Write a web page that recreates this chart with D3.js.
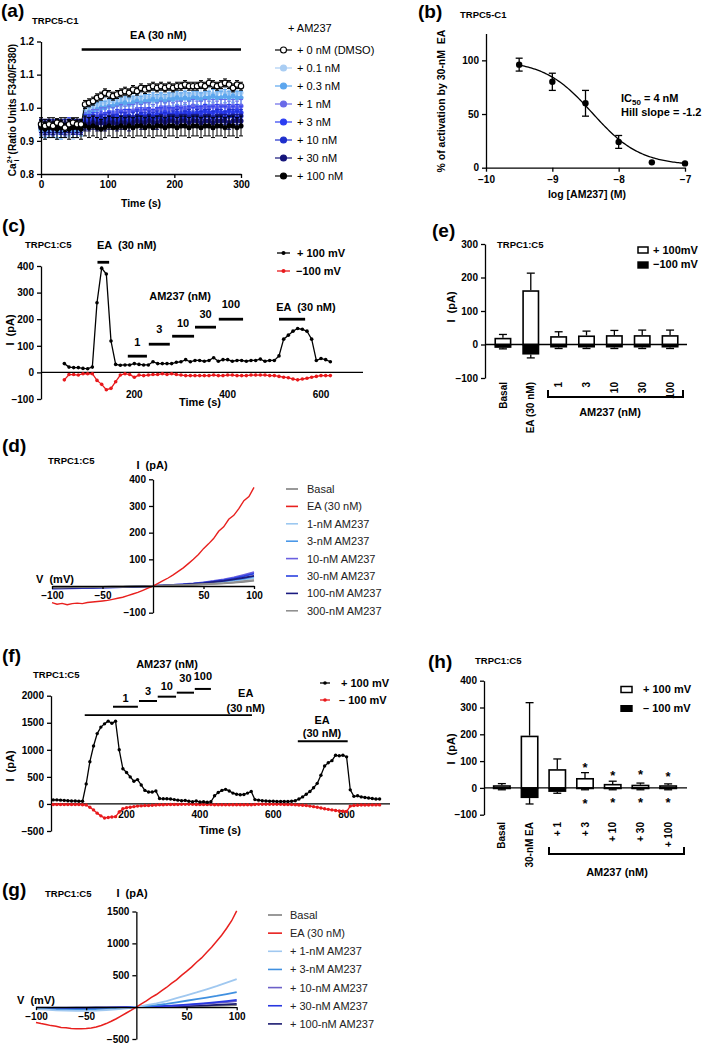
<!DOCTYPE html>
<html>
<head>
<meta charset="utf-8">
<script src="https://cdn.jsdelivr.net/npm/d3@7"></script>
<style>html,body{margin:0;padding:0;background:#fff;} text{white-space:pre;}</style>
</head>
<body>
<svg id="fig" width="709" height="1045"></svg>
<script>
const FONT = "'Liberation Sans', Arial, Helvetica, sans-serif";

/* ---------------- (a) TRPC5-C1 Ca2+ ratio ---------------- */
const aTime = d3.range(0, 301, 6);
const aDMSO = [0.950,0.945,0.950,0.945,0.955,0.950,0.940,0.950,0.955,0.950,0.950,
  1.010,1.015,1.020,1.030,1.035,1.045,1.040,1.035,1.040,1.045,
  1.050,1.045,1.055,1.050,1.060,1.055,1.060,1.065,1.060,1.065,
  1.060,1.065,1.060,1.065,1.065,1.070,1.065,1.065,1.065,1.070,
  1.065,1.075,1.070,1.065,1.070,1.075,1.070,1.060,1.070,1.065];
const a01 = [0.930,0.925,0.935,0.930,0.925,0.930,0.935,0.930,0.925,0.930,0.935,
  0.990,1.000,1.005,1.010,1.015,1.015,1.020,1.020,1.025,1.020,
  1.025,1.030,1.025,1.030,1.030,1.035,1.030,1.035,1.035,1.040,
  1.035,1.040,1.035,1.040,1.040,1.045,1.040,1.040,1.045,1.040,
  1.045,1.045,1.040,1.045,1.050,1.045,1.045,1.040,1.045,1.045];
const a03 = [0.935,0.930,0.930,0.935,0.930,0.925,0.930,0.935,0.930,0.930,0.935,
  0.980,0.985,0.990,0.995,1.000,1.000,1.005,1.005,1.010,1.010,
  1.015,1.010,1.015,1.020,1.015,1.020,1.020,1.025,1.020,1.025,
  1.020,1.025,1.025,1.030,1.025,1.030,1.025,1.030,1.030,1.025,
  1.030,1.030,1.035,1.030,1.030,1.035,1.030,1.035,1.030,1.030];
const a1 = [0.940,0.935,0.940,0.935,0.940,0.940,0.935,0.940,0.945,0.940,0.940,
  0.965,0.970,0.975,0.975,0.980,0.980,0.985,0.980,0.985,0.990,
  0.985,0.990,0.990,0.995,0.990,0.995,0.995,0.990,0.995,1.000,
  0.995,1.000,0.995,1.000,1.000,0.995,1.000,1.005,1.000,1.000,
  1.005,1.000,1.005,1.000,1.005,1.005,1.000,1.005,1.000,1.005];
const a3 = [0.945,0.940,0.945,0.940,0.945,0.940,0.945,0.950,0.945,0.940,0.945,
  0.960,0.960,0.965,0.965,0.970,0.965,0.970,0.970,0.975,0.970,
  0.975,0.975,0.970,0.975,0.980,0.975,0.980,0.975,0.980,0.980,
  0.985,0.980,0.980,0.985,0.980,0.985,0.985,0.980,0.985,0.985,
  0.990,0.985,0.985,0.990,0.985,0.985,0.990,0.985,0.990,0.985];
const a10 = [0.945,0.945,0.940,0.945,0.945,0.940,0.945,0.945,0.940,0.945,0.945,
  0.955,0.955,0.960,0.955,0.960,0.960,0.965,0.960,0.960,0.965,
  0.965,0.960,0.965,0.970,0.965,0.965,0.970,0.965,0.970,0.970,
  0.965,0.970,0.970,0.975,0.970,0.970,0.975,0.970,0.975,0.970,
  0.975,0.975,0.970,0.975,0.975,0.970,0.975,0.975,0.970,0.975];
const a30 = [0.945,0.940,0.945,0.940,0.945,0.945,0.940,0.945,0.940,0.945,0.940,
  0.950,0.950,0.955,0.950,0.955,0.950,0.955,0.955,0.950,0.955,
  0.955,0.950,0.955,0.960,0.955,0.955,0.960,0.955,0.955,0.960,
  0.955,0.960,0.960,0.955,0.960,0.960,0.955,0.960,0.960,0.955,
  0.960,0.960,0.955,0.960,0.960,0.960,0.955,0.960,0.960,0.960];
const a100 = [0.940,0.935,0.940,0.940,0.935,0.940,0.940,0.935,0.940,0.940,0.935,
  0.945,0.940,0.945,0.940,0.935,0.940,0.945,0.940,0.940,0.945,
  0.940,0.945,0.940,0.945,0.945,0.940,0.945,0.940,0.945,0.945,
  0.940,0.945,0.945,0.940,0.945,0.945,0.940,0.945,0.945,0.940,
  0.945,0.945,0.940,0.945,0.945,0.940,0.945,0.945,0.940,0.945];
const aSEM = [0.012,0.02,0.02,0.02,0.02,0.02,0.02,0.03];
const aLabels = ["+ 0 nM (DMSO)","+ 0.1 nM","+ 0.3 nM","+ 1 nM","+ 3 nM","+ 10 nM","+ 30 nM","+ 100 nM"];
const aColors = ["#000000","#a9cdf3","#5ca6ee","#6a6ae8","#2c3ef2","#1e2fcc","#15157a","#000000"];
const aYTicks = [0.8,0.9,1.0,1.1,1.2];
const aXTicks = [0,100,200,300];
const aEAWindow = [61,300];

/* ---------------- (b) concentration-response ---------------- */
const bLogConc = [-9.5,-9,-8.5,-8,-7.5,-7];
const bActivation = [96,80,60,24,5,4];
const bSEM = [6,8,12,6,0,0];
const bIC50nM = 4, bHill = -1.2, bTop = 100, bBottom = 2;
const bXTicks = [-10,-9,-8,-7];
const bYTicks = [0,50,100];

/* ---------------- (c) time course TRPC1:C5 ---------------- */
const cTime = d3.range(50, 621, 10);
const cPos = [33,20,18,18,15,14,20,262,392,370,118,30,27,28,28,33,30,28,28,40,
  33,33,33,33,38,40,48,40,45,45,42,45,55,42,48,48,42,45,45,42,
  45,45,50,42,45,45,62,125,140,155,165,162,155,125,45,52,48,40];
const cNeg = [-28,-8,-8,-10,-5,-5,-5,-30,-45,-65,-60,-35,-10,-5,-8,-18,-10,-12,-10,-8,
  -8,-5,-8,-5,-8,-10,-12,-12,-12,-12,-12,-12,-10,-12,-12,-10,-10,-12,-12,-12,
  -10,-10,-10,-10,-12,-12,-15,-18,-20,-25,-28,-25,-22,-18,-15,-12,-12,-12];
const cYTicks = [-100,0,100,200,300,400];
const cXTicks = [200,400,600];
const cBars = [
  {label:"EA  (30 nM)", t0:121, t1:146, lvl:414, lab:463, anchor:"start", lt:120},
  {label:"1",   t0:186, t1:227, lvl:61,  lab:99},
  {label:"3",   t0:231, t1:276, lvl:106, lab:148},
  {label:"10",  t0:281, t1:328, lvl:136, lab:170},
  {label:"30",  t0:330, t1:375, lvl:170, lab:204},
  {label:"100", t0:381, t1:433, lvl:200, lab:242},
  {label:"EA  (30 nM)", t0:510, t1:566, lvl:200, lab:230, anchor:"start", lt:504}
];

/* ---------------- (d) I-V TRPC1:C5 ---------------- */
const dVfine = d3.range(-100, 101, 5);
const dV = d3.range(-100, 101, 10);
const dEA = [-62,-68,-65,-70,-66,-64,-66,-62,-60,-58,-56,-54,-50,-46,-42,-36,-30,-24,-16,-8,0,
  10,20,30,42,55,68,84,100,118,140,158,178,205,222,250,265,290,320,335,370];
const dBasal = [-5,-5,-4,-4,-3,-3,-2,-2,-1,-1,0,1,2,3,4,6,8,10,13,16,20];
const d1 = [-8,-7,-7,-6,-5,-4,-4,-3,-2,-1,0,1,3,5,7,9,12,15,19,24,30];
const d3nM = [-9,-8,-8,-7,-6,-5,-4,-3,-2,-1,0,2,3,5,8,11,14,18,23,28,35];
const d10 = [-10,-9,-9,-8,-7,-6,-5,-4,-3,-2,0,2,4,7,10,14,19,25,32,42,52];
const d30 = [-9,-9,-8,-7,-6,-5,-5,-4,-3,-1,0,2,4,6,9,13,17,22,29,37,46];
const d100 = [-8,-8,-7,-6,-6,-5,-4,-3,-2,-1,0,1,3,5,8,11,15,19,25,31,38];
const d300 = [-5,-5,-4,-4,-3,-3,-2,-2,-1,-1,0,1,2,3,5,7,9,11,14,18,22];
const dLabels = ["Basal","EA (30 nM)","1-nM AM237","3-nM AM237","10-nM AM237","30-nM AM237","100-nM AM237","300-nM AM237"];
const dColors = ["#7f7f7f","#e8201e","#9cc8f0","#4a98e8","#6a60e0","#2a40e0","#1a1a80","#909090"];
const dYTicks = [-100,100,200,300,400];
const dXTicks = [-100,-50,50,100];

/* ---------------- (e) bar summary ---------------- */
const eCats = ["Basal","EA (30 nM)","1","3","10","30","100"];
const ePos = [20,162,25,27,28,28,28];
const ePosSEM = [10,51,13,13,14,15,15];
const eNeg = [-10,-30,-9,-9,-9,-9,-9];
const eNegSEM = [3,10,3,3,3,3,3];
const eYTicks = [-100,0,100,200,300];

/* ---------------- (f) time course 2 ---------------- */
const fTime = d3.range(0, 891, 10);
const fPos = [75,75,70,65,60,55,55,50,50,
  370,780,1070,1300,1420,1480,1530,1490,1530,
  1000,650,580,500,420,450,350,250,220,220,240,
  100,95,95,90,80,70,60,65,50,40,55,35,40,30,40,
  150,210,250,270,240,200,180,170,175,200,230,
  80,70,60,55,50,50,45,45,45,45,50,60,
  90,130,180,230,300,380,530,700,760,800,900,890,900,870,
  260,140,150,130,120,110,100,90,90];
const fNeg = [-10,-10,-10,-10,-10,-10,-10,-10,-15,
  -20,-60,-110,-170,-220,-260,-250,-240,-235,
  -150,-90,-70,-60,-50,-40,-35,-30,-30,-25,-20,
  -15,-15,-12,-10,-10,-10,-8,-8,-8,-8,-10,-10,-10,-12,-12,
  -15,-15,-15,-15,-15,-15,-15,-15,-15,-15,-15,
  -10,-5,-5,-5,-5,-5,-5,-8,-10,-10,-12,-15,
  -20,-25,-30,-40,-50,-60,-75,-90,-100,-110,-120,-130,-135,-140,
  -40,-30,-25,-20,-20,-20,-18,-18,-18];
const fYTicks = [-500,0,500,1000,1500,2000];
const fXTicks = [200,400,600,800];
const fBars = [
  {label:"1",   t0:163, t1:231, lvl:1796, lab:1892},
  {label:"3",   t0:234, t1:283, lvl:1902, lab:2004},
  {label:"10",  t0:285, t1:335, lvl:1982, lab:2097},
  {label:"30",  t0:337, t1:384, lvl:2056, lab:2246},
  {label:"100", t0:386, t1:430, lvl:2125, lab:2290}
];
const fEA = [
  {t0:86, t1:542, lvl:1641, lt:525, lab1:1985, lab2:1697},
  {t0:667, t1:803, lvl:1158, lt:733, lab1:1474, lab2:1233}
];

/* ---------------- (g) I-V 2 ---------------- */
const gVfine = d3.range(-100, 101, 5);
const gV = d3.range(-100, 101, 10);
const gEA = [-240,-258,-272,-290,-300,-318,-322,-336,-338,-340,-334,-326,-312,-288,-258,-222,-182,-138,-92,-48,0,
  52,98,152,198,255,308,372,428,498,560,628,705,772,858,938,1032,1128,1238,1355,1510];
const gBasal = [-10,-9,-8,-7,-6,-5,-4,-3,-2,-1,0,2,4,6,8,11,14,17,21,25,30];
const g1 = [-30,-40,-50,-55,-60,-60,-55,-45,-35,-18,0,30,60,95,140,185,230,280,330,385,440];
const g3 = [-25,-30,-35,-38,-40,-38,-35,-30,-22,-12,0,15,32,50,75,100,125,150,175,205,235];
const g10 = [-15,-15,-15,-15,-14,-13,-12,-10,-7,-4,0,5,10,16,24,32,42,55,68,80,95];
const g30 = [-15,-16,-17,-17,-16,-15,-13,-11,-8,-4,0,6,12,20,28,38,50,63,78,95,115];
const g100 = [-8,-8,-8,-8,-7,-7,-6,-5,-4,-2,0,3,6,9,13,17,22,28,35,42,50];
const gLabels = ["Basal","EA (30 nM)","+ 1-nM AM237","+ 3-nM AM237","+ 10-nM AM237","+ 30-nM AM237","+ 100-nM AM237"];
const gColors = ["#7f7f7f","#e8201e","#a0c8f0","#4090e0","#6c60c8","#2838e0","#1a1a70"];
const gYTicks = [-500,500,1000,1500];
const gXTicks = [-100,-50,50,100];

/* ---------------- (h) bar summary 2 ---------------- */
const hCats = ["Basal","30-nM EA","+ 1","+ 3","+ 10","+ 30","+ 100"];
const hPos = [10,195,70,37,15,12,10];
const hPosSEM = [6,123,38,20,10,6,5];
const hNeg = [-5,-38,-15,-5,-5,-5,-5];
const hNegSEM = [2,22,5,2,2,2,2];
const hStarUp = [null,null,null,86,57,61,52];
const hStarDown = [null,null,null,-49,-44,-44,-45];
const hYTicks = [-100,0,100,200,300,400];

/* ================= drawing ================= */
const svg = d3.select('#fig');
svg.append('rect').attr('width',709).attr('height',1045).attr('fill','#fff');
const intFmt = d3.format('d');

function T(x, y, s, o = {}) {
  const t = svg.append('text').attr('x', x).attr('y', y)
    .attr('font-family', FONT).attr('font-size', o.size || 10)
    .attr('font-weight', o.weight || 'bold').attr('fill', o.fill || '#000')
    .attr('text-anchor', o.anchor || 'start');
  if (o.rotate) t.attr('transform', `rotate(${o.rotate},${x},${y})`);
  t.text(s);
  return t;
}
function styleAxis(g, size) {
  g.attr('font-family', FONT).attr('font-size', size || 10).attr('font-weight', 'bold');
  g.selectAll('path,line').attr('stroke', '#000').attr('stroke-width', 1.3);
  g.selectAll('text').attr('fill', '#000');
  return g;
}
function L(x1, y1, x2, y2, w, c) {
  return svg.append('line').attr('x1',x1).attr('y1',y1).attr('x2',x2).attr('y2',y2)
    .attr('stroke', c || '#000').attr('stroke-width', w || 1.3);
}

/* ---- (a) ---- */
(function(){
  const x = d3.scaleLinear([0,300],[41,241]);
  const y = d3.scaleLinear([0.8,1.2],[174,41.5]);
  const series = [aDMSO,a01,a03,a1,a3,a10,a30,a100];
  const order = [1,2,3,4,5,6,7,0];
  order.forEach(i => {
    const vals = series[i], col = aColors[i], e = aSEM[i];
    const pts = aTime.map((t,k)=>[t, vals[k]]);
    const g = svg.append('g');
    g.append('path').attr('d', d3.line().x(d=>x(d[0])).y(d=>y(d[1]))(pts))
      .attr('fill','none').attr('stroke', col).attr('stroke-width',1);
    const ec = col;
    g.selectAll(null).data(pts).join('line')
      .attr('x1',d=>x(d[0])).attr('x2',d=>x(d[0]))
      .attr('y1',d=>y(d[1]-e)).attr('y2',d=>y(d[1]+e)).attr('stroke',ec).attr('stroke-width',1);
    g.selectAll(null).data(pts).join('line')
      .attr('x1',d=>x(d[0])-2).attr('x2',d=>x(d[0])+2)
      .attr('y1',d=>y(d[1]-e)).attr('y2',d=>y(d[1]-e)).attr('stroke',ec).attr('stroke-width',1);
    g.selectAll(null).data(pts).join('line')
      .attr('x1',d=>x(d[0])-2).attr('x2',d=>x(d[0])+2)
      .attr('y1',d=>y(d[1]+e)).attr('y2',d=>y(d[1]+e)).attr('stroke',ec).attr('stroke-width',1);
    g.selectAll(null).data(pts).join('circle')
      .attr('cx',d=>x(d[0])).attr('cy',d=>y(d[1])).attr('r', i===0?2.7:2.4)
      .attr('fill', i===0?'#fff':col).attr('stroke', i===0?'#000':col).attr('stroke-width', i===0?1.1:0.5);
  });
  styleAxis(svg.append('g').attr('transform','translate(41,0)')
    .call(d3.axisLeft(y).tickValues(aYTicks).tickFormat(d3.format('.1f')).tickSize(4).tickPadding(3).tickSizeOuter(0)));
  styleAxis(svg.append('g').attr('transform','translate(0,174)')
    .call(d3.axisBottom(x).tickValues(aXTicks).tickFormat(intFmt).tickSize(4).tickPadding(3).tickSizeOuter(0)));
  L(x(aEAWindow[0]), 49.5, x(aEAWindow[1]), 49.5, 2.4);
  T((x(aEAWindow[0])+x(aEAWindow[1]))/2 - 3, 39, "EA (30 nM)", {size:11, anchor:'middle'});
  T(141, 207, "Time (s)", {size:10.5, anchor:'middle'});
  const yl = svg.append('text').attr('transform','translate(16,110) rotate(-90)')
    .attr('font-family',FONT).attr('font-size',10).attr('font-weight','bold').attr('text-anchor','middle');
  yl.append('tspan').text('Ca');
  yl.append('tspan').attr('font-size',7).attr('dy',-4).text('2+');
  yl.append('tspan').attr('font-size',7).attr('dy',7).attr('dx',-6).text('i');
  yl.append('tspan').attr('dy',-3).attr('dx',5).text('(Ratio Units F340/F380)');
  T(1, 17, "(a)", {size:19});
  T(32, 24, "TRPC5-C1", {size:9.5});
  T(288, 32, "+ AM237", {size:11, weight:'normal'});
  aLabels.forEach((lab,i) => {
    const yy = 50 + i*18;
    L(275, yy, 292, yy, 1.2, i===0?'#000':aColors[i]);
    svg.append('circle').attr('cx',283.5).attr('cy',yy).attr('r',3)
      .attr('fill', i===0?'#fff':aColors[i]).attr('stroke', i===0?'#000':aColors[i]).attr('stroke-width',1.1);
    T(297, yy+4, lab, {size:11, weight:'normal'});
  });
})();

/* ---- (b) ---- */
(function(){
  const x = d3.scaleLinear([-10,-7],[486,685]);
  const y = d3.scaleLinear([0,125],[167.7,33.5]);
  styleAxis(svg.append('g').attr('transform','translate(486,0)')
    .call(d3.axisLeft(y).tickValues(bYTicks).tickFormat(intFmt).tickSize(4).tickPadding(3).tickSizeOuter(0)));
  styleAxis(svg.append('g').attr('transform',`translate(0,${y(0)})`)
    .call(d3.axisBottom(x).tickValues(bXTicks).tickFormat(intFmt).tickSize(4).tickPadding(4).tickSizeOuter(0)));
  const logIC50 = Math.log10(bIC50nM*1e-9);
  const fit = d3.range(-9.5, -6.995, 0.02).map(v => [v, bBottom + (bTop-bBottom)/(1+Math.pow(10,(logIC50 - v)*bHill))]);
  svg.append('path').attr('d', d3.line().x(d=>x(d[0])).y(d=>y(d[1]))(fit))
    .attr('fill','none').attr('stroke','#000').attr('stroke-width',1.3);
  bLogConc.forEach((c,i) => {
    const v = bActivation[i], e = bSEM[i];
    if (e > 0) {
      L(x(c), y(v-e), x(c), y(v+e), 1.3);
      L(x(c)-3.5, y(v-e), x(c)+3.5, y(v-e), 1.3);
      L(x(c)-3.5, y(v+e), x(c)+3.5, y(v+e), 1.3);
    }
    svg.append('circle').attr('cx',x(c)).attr('cy',y(v)).attr('r',3.2).attr('fill','#000');
  });
  const ic = svg.append('text').attr('x',621).attr('y',102).attr('font-family',FONT)
    .attr('font-size',11).attr('font-weight','bold');
  ic.append('tspan').text('IC');
  ic.append('tspan').attr('font-size',8).attr('dy',3).text('50');
  ic.append('tspan').attr('dy',-3).text(' = 4 nM');
  T(621, 116, "Hill slope = -1.2", {size:11});
  T(587, 198, "log [AM237] (M)", {size:10.5, anchor:'middle'});
  T(445, 101, "% of activation by 30-nM  EA", {size:10.5, anchor:'middle', rotate:-90});
  T(418, 18, "(b)", {size:19});
  T(460, 18, "TRPC5-C1", {size:9.5});
})();

/* ---- generic time-course panel ---- */
function trace(x, y, times, vals, col, r) {
  const pts = times.map((t,k)=>[t, vals[k]]);
  svg.append('path').attr('d', d3.line().x(d=>x(d[0])).y(d=>y(d[1]))(pts))
    .attr('fill','none').attr('stroke',col).attr('stroke-width',1.3);
  svg.append('g').selectAll('circle').data(pts).join('circle')
    .attr('cx',d=>x(d[0])).attr('cy',d=>y(d[1])).attr('r',r).attr('fill',col);
}

/* ---- (c) ---- */
(function(){
  const x = d3.scaleLinear([0,690],[41,363]);
  const y = d3.scaleLinear([-100,400],[399,266]);
  styleAxis(svg.append('g').attr('transform','translate(41,0)')
    .call(d3.axisLeft(y).tickValues(cYTicks).tickFormat(intFmt).tickSize(4).tickPadding(3).tickSizeOuter(0)));
  L(41, y(0), 363, y(0), 1.3);
  cXTicks.forEach(t => T(x(t), 398, intFmt(t), {anchor:'middle'}));
  T(200, 406, "Time (s)", {size:11, anchor:'middle'});
  T(14, 330, "I  (pA)", {size:11, anchor:'middle', rotate:-90});
  trace(x, y, cTime, cNeg, '#e8191c', 1.8);
  trace(x, y, cTime, cPos, '#000', 1.8);
  cBars.forEach(b => {
    L(x(b.t0), y(b.lvl), x(b.t1), y(b.lvl), 2.8);
    if (b.anchor === 'start') T(x(b.lt), y(b.lab), b.label, {size:11});
    else T((x(b.t0)+x(b.t1))/2, y(b.lab), b.label, {size:11, anchor:'middle'});
  });
  T(x(298), y(272), "AM237 (nM)", {size:11, anchor:'middle'});
  T(2, 232, "(c)", {size:19});
  T(25, 248, "TRPC1:C5", {size:9.5});
  L(277, 253, 290, 253, 1.3); svg.append('circle').attr('cx',283.5).attr('cy',253).attr('r',2).attr('fill','#000');
  T(297, 257, "+ 100 mV", {size:11});
  L(277, 271, 290, 271, 1.3, '#e8191c'); svg.append('circle').attr('cx',283.5).attr('cy',271).attr('r',2).attr('fill','#e8191c');
  T(296, 275, "\u2212100 mV", {size:11});
})();

/* ---- generic IV panel ---- */
function ivLine(x, y, V, vals, col, w) {
  const pts = V.map((v,k)=>[v, vals[k]]);
  svg.append('path').attr('d', d3.line().x(d=>x(d[0])).y(d=>y(d[1]))(pts))
    .attr('fill','none').attr('stroke',col).attr('stroke-width',w||1.6);
}

/* ---- (d) ---- */
(function(){
  const x = d3.scaleLinear([-100,100],[52,254]);
  const y = d3.scaleLinear([-100,400],[612.7,479.3]);
  const small = [[d1,2],[d3nM,3],[d10,4],[d30,5],[d100,6],[dBasal,0],[d300,7]];
  small.forEach(([vals,ci]) => ivLine(x, y, dV, vals, dColors[ci], 1.8));
  ivLine(x, y, dVfine, dEA, dColors[1], 1.4);
  styleAxis(svg.append('g').attr('transform',`translate(${x(0)},0)`)
    .call(d3.axisLeft(y).tickValues(dYTicks).tickFormat(intFmt).tickSize(4).tickPadding(3).tickSizeOuter(0)));
  styleAxis(svg.append('g').attr('transform',`translate(0,${y(0)})`)
    .call(d3.axisBottom(x).tickValues(dXTicks).tickFormat(intFmt).tickSize(3).tickPadding(3).tickSizeOuter(0)));
  T(152, 469, "I  (pA)", {size:11, anchor:'middle'});
  T(36, 583, "V  (mV)", {size:11});
  T(2, 452, "(d)", {size:19});
  T(48, 464, "TRPC1:C5", {size:9.5});
  dLabels.forEach((lab,i) => {
    const yy = 489 + i*17.4;
    L(286, yy, 298, yy, 1.6, dColors[i]);
    T(307, yy+4, lab, {size:11, weight:'normal', fill:'#222'});
  });
})();

/* ---- bar panel ---- */
function barPanel(cfg) {
  const x = d3.scalePoint().domain(cfg.cats).range(cfg.xr).padding(0.5);
  const y = d3.scaleLinear([-100, cfg.ymax], cfg.yr);
  const bw = cfg.bw;
  cfg.cats.forEach((c,i) => {
    const cx = x(c);
    const vn = cfg.neg[i], en = cfg.negSEM[i];
    L(cx, y(vn), cx, y(vn-en), 1.3);
    L(cx-4, y(vn-en), cx+4, y(vn-en), 1.3);
    svg.append('rect').attr('x',cx-bw/2).attr('y',y(0)).attr('width',bw).attr('height',y(vn)-y(0)).attr('fill','#000');
    const vp = cfg.pos[i], ep = cfg.posSEM[i];
    L(cx, y(vp), cx, y(vp+ep), 1.3);
    L(cx-4, y(vp+ep), cx+4, y(vp+ep), 1.3);
    svg.append('rect').attr('x',cx-bw/2+0.8).attr('y',y(vp)+0.8).attr('width',bw-1.6).attr('height',Math.max(0,y(0)-y(vp)-0.8))
      .attr('fill','#fff').attr('stroke','#000').attr('stroke-width',1.6);
  });
  L(cfg.axisX, y(0), cfg.xEnd, y(0), 1.3);
  styleAxis(svg.append('g').attr('transform',`translate(${cfg.axisX},0)`)
    .call(d3.axisLeft(y).tickValues(cfg.yticks).tickFormat(intFmt).tickSize(4).tickPadding(3).tickSizeOuter(0)));
  cfg.cats.forEach(c => T(x(c)+3.6, cfg.labTop, c, {anchor:'end', rotate:-90}));
  return {x, y};
}

/* ---- (e) ---- */
(function(){
  const {x, y} = barPanel({cats:eCats, xr:[489,684], ymax:300, yr:[378,244], bw:17,
    pos:ePos, posSEM:ePosSEM, neg:eNeg, negSEM:eNegSEM, yticks:eYTicks, axisX:485, xEnd:687, labTop:382});
  svg.append('path').attr('d','M548,390V397H683V390').attr('fill','none').attr('stroke','#000').attr('stroke-width',2);
  T(610, 416, "AM237 (nM)", {size:11, anchor:'middle'});
  T(455, 307, "I  (pA)", {size:11, anchor:'middle', rotate:-90});
  T(432, 237, "(e)", {size:19});
  T(497, 248, "TRPC1:C5", {size:9.5});
  svg.append('rect').attr('x',638).attr('y',247).attr('width',10).attr('height',6).attr('fill','#fff').attr('stroke','#000').attr('stroke-width',1.5);
  T(653, 254, "+ 100mV", {size:11});
  svg.append('rect').attr('x',637.3).attr('y',261.3).attr('width',11.4).attr('height',7.4).attr('fill','#000');
  T(653, 268, "\u2212100 mV", {size:11});
})();

/* ---- (f) ---- */
(function(){
  const x = d3.scaleLinear([-6,920],[51,390.6]);
  const y = d3.scaleLinear([-500,2000],[831,695.7]);
  styleAxis(svg.append('g').attr('transform','translate(51,0)')
    .call(d3.axisLeft(y).tickValues(fYTicks).tickFormat(intFmt).tickSize(4).tickPadding(3).tickSizeOuter(0)));
  L(51, y(0), 390, y(0), 1.3);
  fXTicks.forEach(t => T(x(t), 818, intFmt(t), {anchor:'middle'}));
  T(220, 834, "Time (s)", {size:11, anchor:'middle'});
  T(14, 766, "I  (pA)", {size:11, anchor:'middle', rotate:-90});
  trace(x, y, fTime, fNeg, '#e8191c', 1.7);
  trace(x, y, fTime, fPos, '#000', 1.7);
  fBars.forEach(b => {
    L(x(b.t0), y(b.lvl), x(b.t1), y(b.lvl), 2);
    T((x(b.t0)+x(b.t1))/2, y(b.lab), b.label, {size:11, anchor:'middle'});
  });
  T(167, 668, "AM237 (nM)", {size:11, anchor:'middle'});
  fEA.forEach(b => {
    L(x(b.t0), y(b.lvl), x(b.t1), y(b.lvl), 1.8);
    T(x(b.lt), y(b.lab1), "EA", {size:11, anchor:'middle'});
    T(x(b.lt), y(b.lab2), "(30 nM)", {size:11, anchor:'middle'});
  });
  T(2, 662, "(f)", {size:19});
  T(33, 678, "TRPC1:C5", {size:9.5});
  L(320, 683, 330, 683, 1.3); svg.append('circle').attr('cx',325).attr('cy',683).attr('r',1.8).attr('fill','#000');
  T(341, 687, "+ 100 mV", {size:11});
  L(320, 700, 330, 700, 1.3, '#e8191c'); svg.append('circle').attr('cx',325).attr('cy',700).attr('r',1.8).attr('fill','#e8191c');
  T(339, 704, "\u2013 100 mV", {size:11});
})();

/* ---- (g) ---- */
(function(){
  const x = d3.scaleLinear([-100,100],[36,236.7]);
  const y = d3.scaleLinear([-500,1500],[1039,911.5]);
  const small = [[gBasal,0],[g100,6],[g10,4],[g30,5],[g3,3],[g1,2]];
  small.forEach(([vals,ci]) => ivLine(x, y, gV, vals, gColors[ci], 1.8));
  ivLine(x, y, gVfine, gEA, gColors[1], 1.5);
  styleAxis(svg.append('g').attr('transform',`translate(${x(0)},0)`)
    .call(d3.axisLeft(y).tickValues(gYTicks).tickFormat(intFmt).tickSize(4).tickPadding(3).tickSizeOuter(0)));
  styleAxis(svg.append('g').attr('transform',`translate(0,${y(0)})`)
    .call(d3.axisBottom(x).tickValues(gXTicks).tickFormat(intFmt).tickSize(3).tickPadding(3).tickSizeOuter(0)));
  T(132, 897, "I  (pA)", {size:11, anchor:'middle'});
  T(17, 1004, "V  (mV)", {size:11});
  T(2, 896, "(g)", {size:19});
  T(45, 897, "TRPC1:C5", {size:9.5});
  gLabels.forEach((lab,i) => {
    const yy = 915 + i*18.15;
    L(268, yy, 282, yy, 1.6, gColors[i]);
    T(290, yy+4, lab, {size:11, weight:'normal', fill:'#222'});
  });
})();

/* ---- (h) ---- */
(function(){
  const {x, y} = barPanel({cats:hCats, xr:[488,682], ymax:400, yr:[814.7,680.7], bw:18,
    pos:hPos, posSEM:hPosSEM, neg:hNeg, negSEM:hNegSEM, yticks:hYTicks, axisX:484, xEnd:687, labTop:822});
  hCats.forEach((c,i) => {
    if (hStarUp[i] !== null) T(x(c), y(hStarUp[i])+7, "*", {size:13, anchor:'middle'});
    if (hStarDown[i] !== null) T(x(c), y(hStarDown[i])+7, "*", {size:13, anchor:'middle'});
  });
  svg.append('path').attr('d','M549,847V854H684V847').attr('fill','none').attr('stroke','#000').attr('stroke-width',2);
  T(617, 876, "AM237 (nM)", {size:11, anchor:'middle'});
  T(455, 749, "I  (pA)", {size:11, anchor:'middle', rotate:-90});
  T(428, 668, "(h)", {size:19});
  T(475, 664, "TRPC1:C5", {size:9.5});
  svg.append('rect').attr('x',621).attr('y',686.5).attr('width',11).attr('height',6).attr('fill','#fff').attr('stroke','#000').attr('stroke-width',1.5);
  T(643, 693, "+ 100 mV", {size:11});
  svg.append('rect').attr('x',620.3).attr('y',705).attr('width',12.4).attr('height',7).attr('fill','#000');
  T(643, 712, "\u2013 100 mV", {size:11});
})();
</script>
</body>
</html>
